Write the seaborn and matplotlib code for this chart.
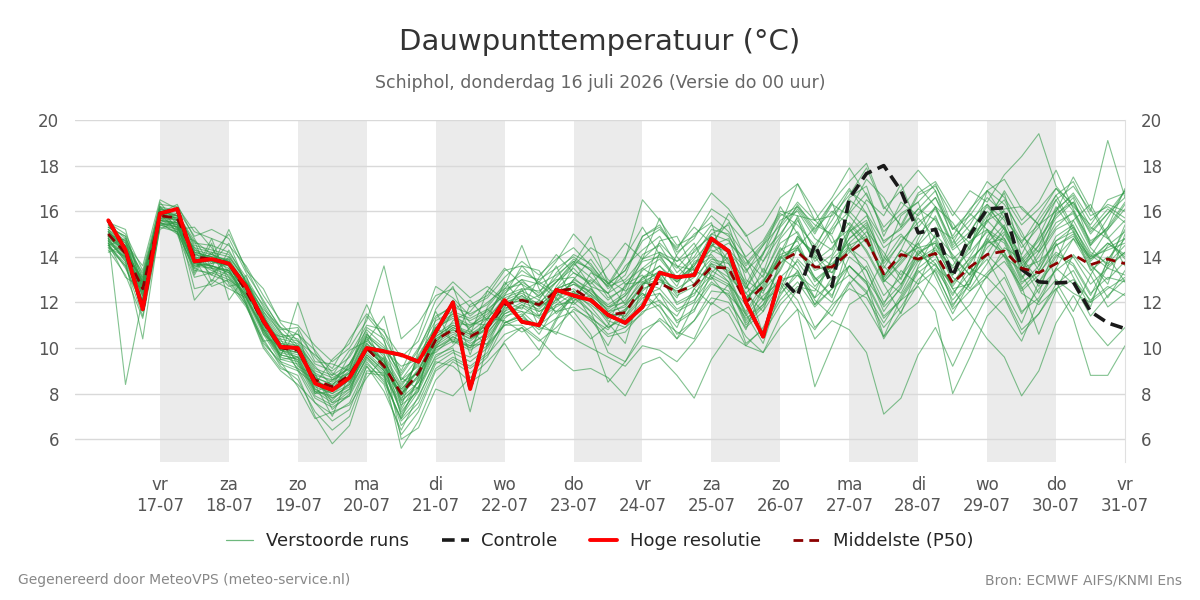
import matplotlib
matplotlib.use("Agg")
import numpy as np
import pandas as pd
import matplotlib.pyplot as plt
from matplotlib.lines import Line2D
import seaborn as sns

# 6-hourly forecast steps, 16-07 06:00 .. 31-07 00:00
times = pd.date_range("2026-07-16 06:00", periods=60, freq="6h")

# Hoge resolutie run (stops after ~10 days)
hoge_resolutie = [15.6, 14.3, 11.7, 15.9, 16.1, 13.8, 13.9, 13.7, 12.7, 11.2,
                  10.05, 10.0, 8.45, 8.15, 8.7, 10.0, 9.85, 9.7, 9.4, 10.7,
                  12.0, 8.2, 10.95, 12.1, 11.15, 11.0, 12.55, 12.3, 12.1, 11.45,
                  11.1, 11.8, 13.3, 13.1, 13.2, 14.8, 14.25, 12.0, 10.5, 13.1]

# Controle run (coincides with hoge resolutie for the first 10 days)
controle = [15.6, 14.3, 11.7, 15.9, 16.1, 13.8, 13.9, 13.7, 12.7, 11.2,
            10.05, 10.0, 8.45, 8.15, 8.7, 10.0, 9.85, 9.7, 9.4, 10.7,
            12.0, 8.2, 10.95, 12.1, 11.15, 11.0, 12.55, 12.3, 12.1, 11.45,
            11.1, 11.8, 13.3, 13.1, 13.2, 14.8, 14.25, 12.0, 10.5, 13.1,
            12.3, 14.55, 12.7, 16.55, 17.65, 18.0, 16.9, 15.05, 15.2, 13.15,
            14.95, 16.1, 16.15, 13.45, 12.9, 12.85, 12.9, 11.6, 11.1, 10.85]

# Middelste (P50)
p50 = [15.0, 14.15, 12.6, 15.8, 15.7, 14.0, 13.9, 13.7, 12.5, 11.15,
       10.0, 9.9, 8.6, 8.3, 8.8, 10.0, 9.2, 8.0, 8.9, 10.35,
       10.8, 10.5, 10.9, 11.9, 12.1, 11.9, 12.5, 12.6, 12.1, 11.45,
       11.55, 12.7, 12.85, 12.45, 12.75, 13.55, 13.5, 12.0, 12.7, 13.8,
       14.2, 13.55, 13.55, 14.2, 14.75, 13.25, 14.1, 13.9, 14.15, 12.85,
       13.55, 14.1, 14.25, 13.5, 13.3, 13.7, 14.1, 13.65, 13.9, 13.7]

# Verstoorde runs
ensemble_runs = [
    [15.2, 14.6, 12.9, 16.0, 15.9, 14.2, 14.0, 13.9, 12.8, 11.4, 10.3, 10.1, 8.9, 8.5, 9.2, 10.4, 9.6, 8.3, 9.4, 10.9,
     11.3, 10.9, 11.4, 12.6, 12.8, 12.3, 13.1, 13.9, 13.4, 12.2, 12.6, 14.1, 14.5, 13.3, 14.0, 15.2, 15.0, 13.4, 14.1, 15.6,
     16.0, 14.8, 14.3, 15.9, 16.8, 15.1, 15.9, 16.4, 17.2, 15.3, 14.6, 15.8, 16.5, 14.9, 14.2, 15.3, 16.0, 14.7, 15.2, 16.3],
    [14.6, 13.5, 11.9, 15.5, 15.3, 13.6, 13.5, 13.2, 12.1, 10.6, 9.4, 9.1, 7.8, 7.4, 7.9, 9.3, 8.6, 6.9, 7.8, 9.5,
     9.9, 9.6, 10.1, 11.0, 11.3, 11.0, 11.6, 11.8, 11.2, 10.5, 10.7, 11.6, 11.9, 10.6, 11.2, 12.5, 12.4, 10.2, 10.8, 12.1,
     12.9, 11.8, 12.6, 13.2, 12.5, 10.4, 11.6, 12.8, 13.4, 11.7, 12.5, 13.1, 12.3, 10.8, 11.5, 12.6, 13.0, 12.1, 12.7, 12.3],
    [14.9, 8.4, 12.2, 15.6, 15.5, 13.9, 13.6, 13.4, 12.3, 10.9, 9.8, 9.6, 8.2, 7.7, 8.5, 9.7, 9.0, 7.3, 8.6, 10.1,
     10.6, 10.3, 10.9, 11.6, 12.0, 11.7, 12.4, 12.8, 12.5, 11.9, 12.4, 13.9, 14.6, 13.8, 14.2, 15.0, 14.7, 13.6, 14.5, 15.8,
     16.2, 15.4, 15.0, 16.6, 17.1, 14.9, 16.4, 15.8, 16.6, 15.2, 15.8, 16.9, 17.4, 16.1, 15.4, 16.0, 16.8, 15.6, 16.3, 16.0],
    [15.5, 15.0, 13.4, 16.3, 16.2, 15.1, 14.8, 14.5, 13.6, 12.3, 11.2, 11.0, 10.1, 9.4, 10.0, 11.2, 13.6, 10.4, 11.1, 12.3,
     12.6, 11.8, 12.2, 13.1, 13.8, 13.2, 13.9, 14.4, 13.6, 12.8, 13.4, 14.9, 15.4, 14.2, 14.8, 16.1, 15.6, 13.9, 13.1, 14.8,
     15.7, 13.5, 14.1, 16.0, 15.2, 12.9, 13.7, 14.6, 15.8, 14.0, 13.2, 14.4, 15.1, 13.6, 14.3, 15.9, 16.4, 15.2, 16.1, 15.5],
    [14.7, 13.9, 12.4, 15.7, 15.4, 13.8, 13.4, 13.1, 12.0, 10.4, 9.2, 8.6, 7.2, 6.4, 7.0, 9.0, 8.9, 5.6, 6.8, 8.6,
     9.4, 8.9, 9.6, 11.1, 11.5, 10.6, 11.9, 12.4, 12.1, 11.1, 10.2, 12.8, 13.4, 12.9, 13.5, 14.0, 13.2, 11.5, 12.6, 13.9,
     14.5, 13.1, 12.2, 14.6, 15.3, 13.0, 12.4, 13.8, 14.2, 11.9, 12.8, 14.6, 15.4, 13.2, 12.0, 13.5, 14.8, 13.9, 14.6, 14.1],
    [15.0, 14.2, 12.5, 15.9, 15.6, 13.9, 14.1, 13.8, 12.6, 11.0, 9.9, 9.7, 8.4, 8.0, 8.4, 9.9, 9.3, 7.8, 8.5, 10.2,
     10.7, 10.2, 10.6, 11.7, 12.3, 11.6, 12.1, 12.5, 11.8, 10.9, 11.3, 12.2, 12.4, 11.6, 12.0, 13.6, 13.1, 11.4, 12.3, 12.9,
     12.1, 10.4, 11.2, 10.8, 9.8, 7.1, 7.8, 9.7, 10.9, 9.2, 10.8, 12.3, 13.1, 11.5, 12.6, 13.4, 14.0, 12.8, 13.5, 13.2],
    [14.4, 13.6, 11.4, 15.3, 15.1, 13.5, 13.2, 12.9, 11.9, 10.1, 9.1, 8.8, 7.0, 5.8, 6.6, 8.9, 8.8, 6.6, 7.4, 9.1,
     9.6, 9.2, 9.8, 11.3, 11.9, 11.4, 12.6, 13.3, 12.9, 12.1, 12.7, 13.8, 14.0, 13.1, 13.9, 14.7, 14.3, 12.6, 13.8, 15.3,
     16.2, 15.1, 16.4, 17.3, 18.1, 16.2, 15.4, 16.8, 17.3, 16.0, 15.1, 16.3, 15.6, 13.8, 14.7, 16.1, 16.7, 15.3, 14.8, 15.6],
    [15.3, 14.9, 13.0, 16.1, 15.8, 14.6, 14.5, 14.2, 13.1, 11.8, 10.6, 10.4, 9.3, 9.0, 9.6, 10.8, 10.1, 8.8, 9.9, 11.2,
     11.6, 11.3, 11.7, 12.3, 12.6, 12.5, 13.0, 13.1, 12.4, 11.8, 12.0, 12.9, 13.3, 12.4, 13.3, 14.5, 14.8, 12.7, 12.1, 13.5,
     14.9, 14.1, 13.3, 15.1, 15.6, 13.8, 14.9, 14.4, 13.7, 12.1, 13.0, 14.9, 15.8, 14.6, 13.4, 14.7, 15.1, 13.9, 14.4, 14.8],
    [14.8, 13.8, 10.4, 15.4, 15.2, 12.1, 13.0, 12.6, 12.2, 10.7, 9.6, 12.0, 9.8, 8.6, 8.9, 10.1, 9.4, 8.2, 9.0, 10.6,
     11.1, 11.0, 11.5, 12.4, 13.0, 12.2, 12.9, 13.5, 12.7, 11.3, 11.6, 12.5, 13.1, 12.0, 12.4, 13.2, 12.8, 11.1, 11.9, 13.7,
     14.4, 12.9, 13.6, 14.3, 13.4, 11.8, 12.6, 14.1, 14.9, 13.5, 14.2, 15.1, 14.6, 12.9, 13.3, 14.2, 13.7, 12.4, 13.1, 12.9],
    [15.1, 14.4, 12.8, 16.0, 15.8, 14.1, 14.0, 13.7, 12.7, 11.3, 10.2, 10.0, 8.7, 8.4, 9.0, 10.2, 9.5, 8.1, 9.1, 10.5,
     11.0, 10.7, 11.3, 12.2, 12.5, 12.1, 13.3, 14.1, 13.7, 12.6, 13.2, 14.9, 15.3, 14.3, 15.6, 16.8, 16.1, 14.9, 15.4, 16.6,
     17.2, 15.6, 15.8, 16.7, 17.9, 16.1, 16.9, 17.8, 16.9, 14.8, 15.6, 16.3, 15.2, 13.4, 14.5, 15.7, 16.4, 15.0, 15.9, 16.6],
    [14.5, 13.7, 12.0, 15.5, 15.2, 13.7, 13.6, 13.3, 12.2, 10.8, 9.6, 9.4, 8.1, 7.6, 8.2, 9.6, 8.9, 7.2, 8.2, 9.9,
     10.3, 9.9, 10.4, 11.4, 11.6, 11.4, 11.9, 12.0, 11.4, 10.6, 10.9, 11.8, 12.1, 11.2, 11.7, 12.8, 12.5, 11.3, 11.9, 13.0,
     13.2, 12.2, 12.9, 13.6, 12.8, 11.3, 12.1, 13.3, 13.9, 12.6, 11.5, 10.4, 9.6, 7.9, 9.0, 11.1, 12.3, 11.0, 10.1, 10.9],
    [14.9, 14.0, 12.7, 15.7, 15.6, 14.3, 13.8, 13.6, 12.4, 11.1, 10.0, 9.8, 8.5, 8.2, 8.7, 9.8, 9.1, 8.0, 8.7, 10.3,
     10.9, 10.5, 11.0, 12.0, 12.2, 11.8, 12.3, 12.6, 12.0, 11.5, 11.4, 12.6, 12.9, 12.5, 12.8, 13.7, 13.4, 12.1, 12.9, 14.0,
     14.3, 13.6, 13.3, 14.2, 14.8, 13.1, 14.3, 13.8, 14.3, 13.6, 14.7, 15.2, 14.2, 12.8, 13.6, 14.7, 15.3, 14.1, 13.5, 14.2],
    [14.6, 14.0, 12.3, 15.6, 15.4, 13.7, 13.5, 13.4, 12.3, 10.8, 9.7, 9.5, 8.1, 7.9, 8.3, 9.5, 8.8, 7.5, 8.1, 9.7,
     10.0, 7.2, 10.2, 11.0, 11.0, 10.4, 9.6, 9.0, 9.1, 8.7, 7.9, 9.3, 9.6, 8.8, 7.8, 9.5, 10.6, 10.1, 10.9, 12.3,
     13.4, 12.1, 11.4, 12.8, 13.6, 12.0, 12.8, 13.9, 14.4, 13.1, 12.5, 13.3, 14.1, 12.5, 13.2, 14.5, 15.0, 13.6, 13.0, 13.8],
    [15.0, 14.3, 12.6, 15.9, 15.7, 14.0, 13.8, 13.5, 12.5, 11.2, 10.1, 9.9, 8.6, 8.1, 8.6, 10.0, 9.2, 7.9, 8.8, 10.4,
     10.8, 10.4, 10.8, 11.8, 11.6, 10.9, 10.7, 10.4, 10.0, 9.6, 9.2, 10.1, 9.9, 9.4, 10.3, 11.4, 11.8, 10.5, 9.8, 10.9,
     11.7, 10.8, 11.9, 12.6, 12.2, 10.9, 11.8, 13.0, 13.7, 12.4, 13.3, 14.1, 13.3, 11.6, 12.2, 13.5, 12.8, 11.4, 12.3, 13.0],
    [15.4, 14.8, 13.2, 16.2, 16.0, 14.5, 14.3, 14.1, 12.9, 11.6, 10.5, 10.3, 9.1, 8.8, 9.3, 10.5, 9.9, 8.6, 9.6, 11.0,
     11.5, 11.2, 11.6, 12.5, 13.0, 12.8, 13.2, 13.8, 13.5, 12.7, 13.0, 13.9, 14.2, 13.5, 14.4, 15.4, 14.9, 13.7, 14.6, 15.9,
     15.4, 14.5, 15.6, 16.9, 16.3, 14.6, 15.3, 16.7, 17.1, 15.8, 16.9, 16.4, 17.6, 18.4, 19.4, 17.1, 16.2, 15.4, 16.5, 16.8],
    [14.7, 14.1, 12.5, 15.6, 15.5, 13.6, 13.7, 13.9, 12.6, 11.0, 9.9, 9.6, 8.3, 8.0, 8.6, 9.9, 9.3, 7.7, 8.3, 10.0,
     10.5, 10.1, 10.7, 11.5, 11.9, 11.6, 12.0, 13.0, 12.6, 11.8, 12.3, 13.1, 13.6, 12.9, 13.7, 14.3, 13.9, 12.4, 13.2, 14.6,
     15.1, 13.8, 14.4, 15.5, 14.7, 13.2, 13.9, 15.0, 15.7, 14.3, 14.9, 15.6, 16.0, 14.7, 15.4, 16.5, 17.1, 16.0, 19.1, 16.6],
    [15.1, 14.4, 12.7, 15.8, 15.7, 14.1, 13.9, 13.6, 12.4, 11.1, 9.9, 9.8, 8.5, 8.3, 8.9, 10.0, 9.2, 8.0, 9.0, 10.4,
     10.9, 10.6, 11.0, 11.9, 12.1, 12.0, 12.6, 12.9, 12.2, 11.5, 11.9, 13.1, 13.3, 12.3, 12.7, 13.8, 13.5, 12.2, 12.9, 14.3,
     14.7, 13.0, 13.6, 14.4, 13.8, 12.3, 13.1, 14.2, 14.6, 12.9, 13.7, 14.8, 14.0, 12.4, 11.9, 12.6, 11.3, 8.8, 8.8, 10.1],
    [15.3, 14.7, 13.1, 16.1, 16.0, 14.4, 14.2, 14.0, 12.9, 11.5, 10.4, 10.2, 9.0, 8.7, 9.1, 10.3, 9.7, 8.4, 9.3, 10.8,
     11.4, 11.0, 11.3, 12.1, 12.4, 11.9, 12.9, 13.7, 13.1, 12.4, 12.9, 13.5, 14.1, 13.6, 13.4, 14.6, 15.5, 14.6, 13.8, 14.9,
     16.3, 15.2, 16.0, 15.4, 14.6, 13.5, 14.7, 15.5, 16.1, 14.4, 15.1, 16.2, 15.3, 13.9, 14.8, 15.8, 16.6, 14.5, 15.3, 17.0],
    [14.8, 13.9, 12.3, 15.6, 15.3, 13.8, 13.6, 13.4, 12.2, 10.7, 9.5, 9.3, 7.9, 7.5, 8.1, 9.6, 8.7, 6.8, 7.6, 9.3,
     9.8, 9.4, 10.0, 11.1, 11.4, 10.8, 11.3, 11.6, 10.6, 8.5, 9.4, 10.8, 11.2, 10.4, 11.2, 12.2, 12.0, 10.9, 11.6, 12.8,
     11.7, 8.3, 10.1, 11.9, 12.4, 11.1, 12.3, 13.5, 14.1, 12.7, 13.8, 14.7, 14.2, 12.6, 13.4, 14.9, 15.4, 13.8, 14.6, 14.0],
    [15.2, 14.5, 12.8, 16.0, 15.8, 14.3, 14.1, 13.8, 12.8, 11.4, 10.2, 10.1, 8.8, 8.6, 9.3, 10.6, 10.0, 8.9, 10.0, 11.4,
     11.8, 11.5, 11.9, 12.8, 13.2, 13.0, 13.5, 14.0, 13.4, 12.7, 13.9, 16.5, 15.6, 14.5, 14.9, 15.8, 15.1, 14.0, 14.7, 16.0,
     15.8, 14.2, 15.3, 16.5, 15.9, 14.7, 15.2, 16.1, 16.9, 15.2, 16.0, 17.3, 16.6, 15.4, 16.1, 17.0, 16.3, 15.1, 15.9, 16.9],
    [14.5, 13.6, 11.8, 15.4, 15.1, 13.4, 13.3, 13.0, 11.9, 10.3, 9.3, 9.0, 7.6, 7.1, 7.6, 9.2, 8.4, 6.2, 7.2, 9.0,
     9.5, 9.1, 9.7, 10.6, 10.9, 10.3, 10.9, 11.7, 11.3, 10.8, 11.7, 12.4, 11.8, 10.9, 12.6, 13.4, 12.9, 11.2, 12.1, 13.1,
     13.8, 12.7, 13.5, 14.8, 15.4, 13.6, 12.8, 14.1, 14.7, 13.3, 14.5, 15.6, 14.8, 13.1, 14.0, 15.2, 15.6, 14.2, 13.7, 14.5],
    [15.0, 14.1, 12.6, 15.8, 15.6, 14.0, 13.8, 13.6, 12.5, 11.1, 10.0, 9.8, 8.6, 8.2, 8.8, 10.1, 9.3, 8.0, 8.8, 10.3,
     10.8, 10.4, 10.9, 11.9, 12.1, 11.9, 12.4, 12.8, 12.3, 11.7, 12.3, 13.4, 13.9, 13.0, 13.6, 14.5, 14.2, 13.3, 14.5, 15.4,
     16.4, 15.6, 16.6, 17.9, 16.7, 15.3, 16.1, 17.1, 16.2, 14.5, 15.4, 16.6, 15.9, 14.4, 15.3, 16.7, 17.3, 15.8, 16.2, 15.7],
    [14.7, 13.8, 12.1, 15.5, 15.3, 13.7, 13.6, 13.3, 12.2, 10.8, 9.7, 9.5, 8.2, 7.8, 8.4, 9.7, 9.0, 7.6, 8.5, 10.0,
     10.4, 10.0, 10.5, 11.5, 11.8, 11.3, 11.8, 12.2, 11.6, 10.9, 11.4, 12.3, 12.6, 11.7, 12.1, 13.1, 12.7, 11.0, 11.8, 12.9,
     13.3, 11.9, 12.6, 13.6, 12.9, 11.4, 12.1, 12.7, 11.6, 8.0, 9.6, 11.4, 12.2, 10.6, 11.5, 12.8, 13.4, 12.0, 12.6, 13.1],
    [15.1, 14.3, 12.9, 15.9, 15.8, 14.2, 14.0, 13.8, 12.6, 11.2, 10.1, 10.0, 8.7, 8.4, 8.9, 10.2, 9.4, 8.2, 9.0, 10.5,
     11.0, 10.6, 11.1, 12.0, 12.3, 11.8, 12.6, 12.9, 12.4, 11.6, 11.8, 12.8, 13.0, 12.6, 13.1, 13.9, 13.7, 12.2, 12.9, 14.1,
     14.4, 13.4, 13.7, 14.5, 14.9, 13.0, 14.0, 14.4, 14.6, 13.2, 13.9, 14.6, 14.8, 13.5, 13.8, 14.5, 14.9, 14.0, 14.3, 14.6],
    [15.3, 14.9, 12.8, 16.4, 15.4, 13.2, 14.6, 12.1, 13.2, 10.9, 9.7, 10.8, 8.0, 8.6, 9.1, 10.9, 10.4, 7.4, 9.9, 11.6,
     10.2, 11.9, 12.3, 13.4, 13.6, 12.8, 12.2, 13.6, 14.4, 13.9, 12.8, 12.9, 12.6, 14.1, 15.0, 15.5, 13.1, 12.4, 11.6, 13.9,
     15.8, 15.6, 14.9, 13.2, 12.4, 13.9, 15.8, 16.4, 14.1, 12.6, 12.8, 14.7, 16.1, 16.2, 15.4, 12.9, 11.6, 13.2, 14.5, 15.1],
    [14.2, 14.5, 12.7, 16.1, 15.0, 14.7, 12.9, 14.3, 12.9, 11.9, 10.7, 9.2, 8.8, 7.6, 7.9, 10.6, 9.8, 7.0, 8.1, 11.3,
     11.9, 9.7, 11.8, 12.7, 14.5, 12.6, 11.5, 12.2, 13.0, 12.4, 11.2, 12.0, 14.2, 13.8, 14.6, 13.1, 12.2, 10.8, 12.7, 14.0,
     13.4, 11.9, 13.1, 15.3, 14.2, 12.8, 11.5, 13.6, 15.0, 14.1, 13.2, 15.7, 16.8, 14.0, 12.9, 13.8, 15.6, 16.3, 14.9, 13.6],
    [15.6, 14.0, 13.1, 15.9, 16.3, 14.8, 13.5, 15.2, 13.4, 12.6, 11.1, 10.3, 9.7, 9.1, 10.4, 11.5, 10.7, 9.6, 10.3, 12.1,
     12.9, 12.2, 12.7, 12.1, 11.7, 13.1, 14.1, 13.3, 12.8, 13.6, 14.6, 13.9, 15.7, 14.0, 13.2, 14.4, 15.9, 15.0, 13.3, 15.4,
     17.2, 16.0, 14.6, 15.2, 16.5, 15.8, 17.2, 15.3, 16.2, 15.5, 14.3, 16.9, 16.3, 15.1, 13.6, 16.0, 17.5, 16.1, 14.8, 13.9],
    [14.3, 13.2, 11.3, 15.2, 15.6, 12.6, 12.8, 13.5, 12.0, 10.2, 9.4, 8.3, 6.9, 7.2, 7.5, 8.7, 9.6, 6.0, 6.5, 8.2,
     7.9, 8.7, 9.4, 10.2, 9.0, 9.7, 11.2, 12.4, 11.6, 9.8, 9.4, 10.5, 11.3, 10.7, 10.4, 12.0, 11.5, 10.1, 9.8, 11.4,
     12.6, 10.9, 11.7, 12.9, 11.8, 10.5, 12.2, 13.4, 12.6, 11.2, 11.9, 13.2, 13.8, 12.7, 10.6, 12.5, 14.1, 13.2, 11.8, 12.4],
    [15.0, 14.7, 12.0, 16.2, 15.2, 15.3, 14.4, 13.3, 12.7, 11.7, 10.9, 10.6, 9.6, 8.8, 9.9, 10.3, 11.4, 8.5, 8.9, 10.0,
     11.2, 11.6, 12.5, 12.0, 12.9, 12.4, 13.6, 12.0, 13.3, 12.9, 11.9, 12.6, 14.7, 14.9, 13.4, 13.0, 14.3, 13.5, 12.1, 12.6,
     14.4, 15.3, 16.4, 14.3, 15.1, 14.2, 13.0, 14.8, 16.2, 14.6, 15.9, 15.2, 14.0, 13.4, 14.9, 16.5, 15.2, 13.7, 12.8, 15.0],
    [14.9, 14.2, 12.4, 15.7, 15.8, 13.3, 14.8, 12.8, 11.8, 10.3, 10.4, 9.0, 8.4, 7.0, 8.9, 10.5, 9.0, 7.9, 9.6, 9.8,
     10.5, 10.0, 11.3, 11.2, 10.7, 11.1, 10.6, 12.1, 12.3, 11.2, 10.9, 11.5, 12.4, 11.1, 11.6, 13.3, 14.0, 12.9, 10.6, 11.9,
     12.7, 12.5, 13.9, 14.6, 13.0, 11.9, 13.4, 12.8, 14.5, 13.9, 12.6, 13.7, 15.0, 13.7, 12.4, 14.6, 13.1, 11.8, 13.9, 14.8],
    [15.4, 14.6, 13.6, 16.5, 16.1, 14.9, 15.2, 14.8, 13.3, 12.1, 10.8, 10.9, 9.4, 9.3, 9.0, 11.4, 10.5, 9.0, 10.6, 12.7,
     12.2, 11.4, 12.0, 12.6, 13.4, 12.9, 13.8, 15.0, 14.2, 13.0, 12.5, 13.0, 13.6, 12.7, 14.3, 14.9, 13.8, 12.6, 14.1, 16.2,
     15.0, 13.9, 15.2, 16.0, 17.4, 16.6, 15.3, 16.1, 15.6, 13.9, 14.6, 15.5, 16.9, 15.6, 16.4, 17.8, 16.1, 14.6, 15.3, 16.4],
    [14.6, 13.1, 12.6, 15.4, 15.5, 13.9, 12.7, 13.0, 12.4, 11.5, 9.5, 9.6, 8.9, 7.3, 8.0, 9.4, 8.5, 6.9, 8.7, 10.8,
     11.5, 10.8, 10.1, 11.6, 12.6, 10.9, 12.2, 11.3, 10.4, 11.0, 12.8, 13.2, 12.0, 11.4, 12.6, 11.9, 12.8, 11.9, 13.5, 12.4,
     13.2, 12.6, 12.0, 13.6, 12.9, 10.5, 11.4, 12.0, 13.5, 12.3, 13.6, 12.2, 11.4, 10.3, 12.1, 13.0, 12.4, 12.0, 13.6, 14.2],
    [15.1, 14.5, 13.3, 16.0, 15.3, 14.4, 13.7, 14.6, 12.8, 10.8, 10.5, 10.6, 9.9, 8.9, 8.5, 9.9, 9.9, 9.2, 9.5, 10.1,
     11.7, 12.1, 11.2, 12.9, 12.0, 12.3, 12.9, 13.8, 12.7, 12.4, 13.6, 14.3, 14.9, 13.6, 12.8, 14.2, 14.6, 13.9, 12.5, 13.4,
     14.9, 14.0, 13.0, 15.1, 15.8, 14.4, 15.0, 14.1, 13.6, 12.8, 14.0, 15.2, 14.7, 13.0, 14.2, 15.5, 15.9, 14.4, 13.6, 15.4],
    [14.4, 14.0, 11.6, 15.5, 15.0, 13.1, 13.3, 13.8, 11.9, 10.0, 9.0, 8.4, 7.6, 6.8, 7.3, 9.2, 8.1, 6.4, 7.9, 9.4,
     9.2, 8.5, 9.0, 10.3, 10.9, 9.9, 11.3, 12.5, 11.3, 10.1, 11.6, 12.8, 13.2, 11.9, 12.3, 13.7, 12.9, 11.6, 12.8, 14.4,
     13.6, 12.2, 14.0, 15.2, 14.3, 12.9, 13.8, 14.6, 13.1, 11.5, 12.9, 14.1, 15.3, 13.7, 14.5, 16.2, 15.1, 13.4, 14.0, 12.9],
    [15.2, 14.1, 13.0, 15.6, 15.9, 14.7, 14.1, 15.0, 13.5, 12.0, 10.9, 10.1, 9.2, 8.3, 9.7, 11.0, 10.8, 8.7, 8.2, 10.8,
     12.1, 11.1, 11.0, 12.3, 13.6, 13.4, 12.1, 13.0, 13.9, 12.8, 14.0, 15.3, 14.1, 12.9, 13.6, 15.0, 15.4, 13.0, 12.4, 14.2,
     15.6, 14.3, 15.9, 17.0, 15.9, 13.7, 14.6, 15.7, 14.8, 13.2, 14.4, 16.0, 15.2, 14.1, 15.6, 16.7, 15.3, 14.0, 15.2, 16.1],
    [14.8, 14.3, 12.9, 15.9, 15.1, 13.5, 14.2, 13.1, 12.3, 11.3, 10.2, 9.4, 8.0, 8.1, 9.3, 10.7, 9.2, 7.1, 8.3, 9.6,
     10.1, 10.9, 11.7, 11.1, 11.4, 12.1, 11.6, 12.3, 11.9, 11.3, 11.7, 12.4, 11.6, 10.4, 11.9, 12.9, 12.3, 11.5, 10.2, 12.5,
     13.9, 13.1, 12.3, 14.0, 13.4, 11.6, 12.7, 14.3, 13.3, 11.8, 13.1, 13.9, 12.5, 11.1, 12.9, 14.1, 13.6, 12.3, 13.8, 15.2],
    [15.5, 15.2, 12.5, 16.2, 15.6, 14.0, 13.2, 14.0, 13.0, 11.6, 10.7, 10.0, 8.4, 9.5, 10.2, 11.9, 10.3, 8.6, 9.2, 11.7,
     12.7, 10.6, 12.5, 13.5, 12.8, 11.4, 12.7, 13.7, 14.9, 12.8, 13.4, 14.7, 15.2, 14.4, 15.3, 14.6, 13.7, 12.8, 14.2, 15.0,
     16.1, 15.0, 16.3, 15.8, 14.9, 13.1, 14.3, 15.9, 16.6, 14.9, 16.1, 16.9, 15.7, 14.6, 15.8, 17.0, 16.0, 14.5, 15.7, 16.9],
    [14.5, 14.8, 12.2, 15.8, 15.7, 14.2, 13.5, 12.7, 12.9, 10.6, 10.0, 9.1, 8.6, 7.8, 8.2, 10.0, 9.5, 7.7, 9.7, 10.9,
     10.3, 10.1, 10.2, 11.8, 12.5, 12.9, 12.4, 11.9, 12.6, 11.6, 12.1, 13.5, 13.0, 12.2, 13.8, 14.1, 13.3, 12.1, 13.0, 13.7,
     14.8, 14.2, 13.6, 14.8, 15.5, 14.0, 13.2, 14.5, 15.3, 14.8, 13.5, 13.1, 14.4, 13.9, 12.7, 14.0, 14.8, 13.5, 12.2, 13.4],
]

weekdays = ["ma", "di", "wo", "do", "vr", "za", "zo"]
day_ticks = pd.date_range("2026-07-17", "2026-07-31", freq="D")

# long-form table for seaborn
ens_df = pd.concat(
    [pd.DataFrame({"tijd": times, "waarde": run, "lid": i}) for i, run in enumerate(ensemble_runs)],
    ignore_index=True,
)
hres_df = pd.DataFrame({"tijd": times[:len(hoge_resolutie)], "waarde": hoge_resolutie})
ctrl_df = pd.DataFrame({"tijd": times, "waarde": controle})
p50_df = pd.DataFrame({"tijd": times, "waarde": p50})

sns.set_style("white")
plt.rcParams["font.family"] = ["DejaVu Sans"]

fig = plt.figure(figsize=(12, 6), dpi=100)
ax = fig.add_axes([0.0625, 0.23, 0.875, 0.57])

green = "#2f9a46"
sns.lineplot(data=ens_df, x="tijd", y="waarde", units="lid", estimator=None,
             color=green, lw=0.8, alpha=0.6, ax=ax, zorder=2)
sns.lineplot(data=ctrl_df, x="tijd", y="waarde", color="#1a1a1a", lw=2.6,
             linestyle=(0, (3.5, 1.8)), ax=ax, zorder=3)
sns.lineplot(data=p50_df, x="tijd", y="waarde", color="#8b0000", lw=2.0,
             linestyle=(0, (3.5, 2.2)), ax=ax, zorder=4)
sns.lineplot(data=hres_df, x="tijd", y="waarde", color="#ff0000", lw=2.8, ax=ax, zorder=5)

# alternating day shading
for d in day_ticks[::2][:-1]:
    ax.axvspan(d, d + pd.Timedelta(days=1), color="#ebebeb", lw=0, zorder=0)

ax.set_xlim(pd.Timestamp("2026-07-15 18:25"), pd.Timestamp("2026-07-31"))
ax.set_ylim(5, 20)
ax.set_yticks(range(6, 21, 2))
ax.set_xticks(day_ticks)
ax.set_xticklabels([f"{weekdays[d.weekday()]}\n{d:%d-%m}" for d in day_ticks])
ax.set_xlabel("")
ax.set_ylabel("")

ax.set_axisbelow(True)
ax.yaxis.grid(True, color="#d9d9d9", lw=1)
ax.xaxis.grid(False)
for side in ["top", "left", "bottom"]:
    ax.spines[side].set_visible(False)
ax.spines["right"].set_color("#e0e0e0")

ax.tick_params(axis="y", left=False, right=False, labelleft=True, labelright=True,
               labelsize=12, labelcolor="#555555", pad=8)
ax.tick_params(axis="x", length=6, width=1.6, color="#666666", labelsize=12,
               labelcolor="#555555", pad=4)

handles = [
    Line2D([], [], color=green, lw=0.9, alpha=0.7),
    Line2D([], [], color="#1a1a1a", lw=2.6, linestyle=(0, (3.5, 1.8))),
    Line2D([], [], color="#ff0000", lw=2.8),
    Line2D([], [], color="#8b0000", lw=2.0, linestyle=(0, (3.5, 2.2))),
]
labels = ["Verstoorde runs", "Controle", "Hoge resolutie", "Middelste (P50)"]
fig.legend(handles, labels, loc="center", bbox_to_anchor=(0.5, 1 - 541 / 600), ncol=4,
           frameon=False, fontsize=13, handlelength=1.5, handletextpad=0.7,
           columnspacing=1.8)

fig.text(0.5, 1 - 42 / 600, "Dauwpunttemperatuur (°C)", ha="center", va="center",
         fontsize=21, color="#333333")
fig.text(0.5, 1 - 83 / 600, "Schiphol, donderdag 16 juli 2026 (Versie do 00 uur)",
         ha="center", va="center", fontsize=12.5, color="#666666")
fig.text(18 / 1200, 1 - 580 / 600, "Gegenereerd door MeteoVPS (meteo-service.nl)",
         ha="left", va="center", fontsize=10, color="#888888")
fig.text(1182 / 1200, 1 - 580 / 600, "Bron: ECMWF AIFS/KNMI Ens",
         ha="right", va="center", fontsize=10, color="#888888")

fig.savefig("out.png", dpi=100)
